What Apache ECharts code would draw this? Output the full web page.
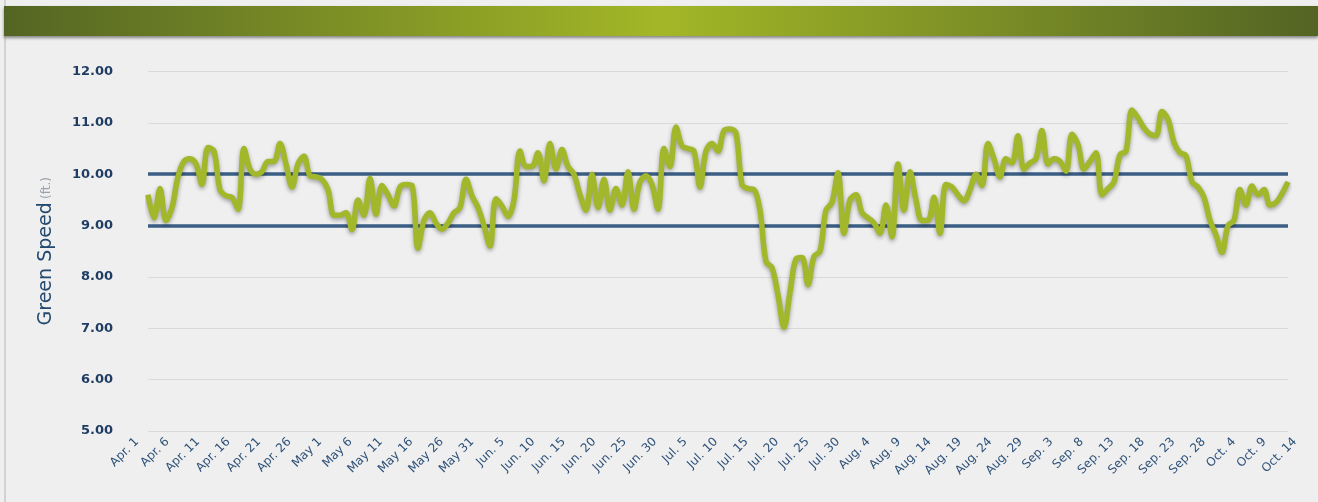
<!DOCTYPE html>
<html>
<head>
<meta charset="utf-8">
<script src="https://cdn.jsdelivr.net/npm/echarts@6/dist/echarts.min.js"></script>
<style>
html,body{margin:0;padding:0;background:#efefef;}
#chart{width:1318px;height:502px;}
</style>
</head>
<body>
<div id="chart"></div>
<script>
const categories = [
"Apr. 1","Apr. 2","Apr. 3","Apr. 4","Apr. 5","Apr. 6","Apr. 7","Apr. 8","Apr. 9","Apr. 10",
"Apr. 11","Apr. 12","Apr. 13","Apr. 14","Apr. 15","Apr. 16","Apr. 17","Apr. 18","Apr. 19","Apr. 20",
"Apr. 21","Apr. 22","Apr. 23","Apr. 24","Apr. 25","Apr. 26","Apr. 27","Apr. 28","Apr. 29","Apr. 30",
"May 1","May 2","May 3","May 4","May 5","May 6","May 7","May 8","May 9","May 10",
"May 11","May 12","May 13","May 14","May 15","May 16","May 18","May 20","May 22","May 24",
"May 26","May 27","May 28","May 29","May 30","May 31","Jun. 1","Jun. 2","Jun. 3","Jun. 4",
"Jun. 5","Jun. 6","Jun. 7","Jun. 8","Jun. 9","Jun. 10","Jun. 11","Jun. 12","Jun. 13","Jun. 14",
"Jun. 15","Jun. 16","Jun. 17","Jun. 18","Jun. 19","Jun. 20","Jun. 21","Jun. 22","Jun. 23","Jun. 24",
"Jun. 25","Jun. 26","Jun. 27","Jun. 28","Jun. 29","Jun. 30","Jul. 1","Jul. 2","Jul. 3","Jul. 4",
"Jul. 5","Jul. 6","Jul. 7","Jul. 8","Jul. 9","Jul. 10","Jul. 11","Jul. 12","Jul. 13","Jul. 14",
"Jul. 15","Jul. 16","Jul. 17","Jul. 18","Jul. 19","Jul. 20","Jul. 21","Jul. 22","Jul. 23","Jul. 24",
"Jul. 25","Jul. 26","Jul. 27","Jul. 28","Jul. 29","Jul. 30","Jul. 31","Aug. 1","Aug. 2","Aug. 3",
"Aug. 4","Aug. 5","Aug. 6","Aug. 7","Aug. 8","Aug. 9","Aug. 10","Aug. 11","Aug. 12","Aug. 13",
"Aug. 14","Aug. 15","Aug. 16","Aug. 17","Aug. 18","Aug. 19","Aug. 20","Aug. 21","Aug. 22","Aug. 23",
"Aug. 24","Aug. 25","Aug. 26","Aug. 27","Aug. 28","Aug. 29","Aug. 30","Aug. 31","Sep. 1","Sep. 2",
"Sep. 3","Sep. 4","Sep. 5","Sep. 6","Sep. 7","Sep. 8","Sep. 9","Sep. 10","Sep. 11","Sep. 12",
"Sep. 13","Sep. 14","Sep. 15","Sep. 16","Sep. 17","Sep. 18","Sep. 19","Sep. 20","Sep. 21","Sep. 22",
"Sep. 23","Sep. 24","Sep. 25","Sep. 26","Sep. 27","Sep. 28","Sep. 29","Sep. 30","Oct. 1","Oct. 2",
"Oct. 4","Oct. 5","Oct. 6","Oct. 7","Oct. 8","Oct. 9","Oct. 10","Oct. 11","Oct. 12","Oct. 13",
"Oct. 14"
];

const tickLabels = [
"Apr. 1","Apr. 6","Apr. 11","Apr. 16","Apr. 21","Apr. 26","May 1","May 6","May 11","May 16",
"May 26","May 31","Jun. 5","Jun. 10","Jun. 15","Jun. 20","Jun. 25","Jun. 30","Jul. 5","Jul. 10",
"Jul. 15","Jul. 20","Jul. 25","Jul. 30","Aug. 4","Aug. 9","Aug. 14","Aug. 19","Aug. 24","Aug. 29",
"Sep. 3","Sep. 8","Sep. 13","Sep. 18","Sep. 23","Sep. 28","Oct. 4","Oct. 9","Oct. 14"
];

const greenSpeed = [
9.60,9.15,9.72,9.10,9.35,9.95,10.25,10.30,10.20,9.80,
10.52,10.45,9.70,9.58,9.55,9.32,10.50,10.10,10.00,10.05,
10.25,10.25,10.60,10.20,9.75,10.20,10.35,9.97,9.95,9.90,
9.70,9.20,9.20,9.25,8.92,9.50,9.20,9.92,9.22,9.78,
9.60,9.38,9.75,9.80,9.78,8.56,9.10,9.25,9.05,8.93,
9.05,9.25,9.35,9.90,9.58,9.35,9.00,8.60,9.52,9.38,
9.18,9.50,10.45,10.15,10.15,10.42,9.87,10.60,10.10,10.48,
10.15,10.00,9.60,9.30,10.00,9.35,9.90,9.30,9.72,9.40,
10.05,9.32,9.85,9.97,9.80,9.32,10.50,10.15,10.92,10.55,
10.50,10.45,9.75,10.45,10.60,10.45,10.85,10.88,10.80,9.80,
9.72,9.70,9.30,8.30,8.18,7.65,7.02,7.70,8.35,8.38,
7.85,8.40,8.50,9.30,9.45,10.03,8.85,9.50,9.60,9.25,
9.15,9.05,8.85,9.40,8.78,10.20,9.30,10.05,9.50,9.10,
9.10,9.55,8.85,9.80,9.75,9.60,9.48,9.70,10.00,9.78,
10.60,10.30,9.95,10.30,10.22,10.75,10.10,10.22,10.30,10.85,
10.20,10.30,10.25,10.06,10.78,10.58,10.10,10.25,10.42,9.60,
9.72,9.85,10.38,10.45,11.25,11.10,10.90,10.78,10.75,11.22,
11.07,10.62,10.42,10.36,9.85,9.75,9.55,9.10,8.82,8.48,
9.00,9.10,9.70,9.40,9.77,9.60,9.70,9.40,9.45,9.62,
9.85
];

const yTicks = [5, 6, 7, 8, 9, 10, 11, 12];
const targetBand = [9, 10];

const chart = echarts.init(document.getElementById('chart'), null, {renderer: 'canvas'});

chart.setOption({
  backgroundColor: '#efefef',
  animation: false,
  graphic: [
    {type: 'rect', left: 4, top: 0, shape: {width: 2, height: 502}, style: {fill: '#d2d2d2'}, z: 0},
    {type: 'rect', left: 4, top: 6, shape: {width: 1314, height: 30},
     style: {
       fill: new echarts.graphic.LinearGradient(0, 0, 1, 0, [
         {offset: 0, color: '#546523'},
         {offset: 0.5, color: '#a3b727'},
         {offset: 1, color: '#536424'}
       ]),
       shadowColor: 'rgba(0,0,0,0.45)', shadowBlur: 3, shadowOffsetY: 2
     }, z: 10}
  ],
  grid: [
    {left: 148, right: 30, top: 71.5, bottom: 71, containLabel: false},
    {left: 137, right: 23, top: 71.5, bottom: 71, containLabel: false}
  ],
  xAxis: [{
    type: 'category',
    gridIndex: 0,
    data: categories,
    boundaryGap: false,
    axisLine: {show: false},
    axisTick: {show: false},
    splitLine: {show: false},
    axisLabel: {show: false}
  }, {
    type: 'category',
    gridIndex: 1,
    data: tickLabels,
    boundaryGap: false,
    axisLine: {show: false},
    axisTick: {show: false},
    splitLine: {show: false},
    axisLabel: {
      interval: 0,
      rotate: 45,
      margin: 9,
      color: '#2d5078',
      fontFamily: 'DejaVu Sans',
      fontSize: 12
    }
  }],
  yAxis: [{
    type: 'value',
    gridIndex: 0,
    min: yTicks[0],
    max: yTicks[yTicks.length - 1],
    interval: 1,
    axisLine: {show: false},
    axisTick: {show: false},
    splitLine: {lineStyle: {color: '#dadada', width: 1}},
    axisLabel: {
      margin: 35,
      color: '#1f3d63',
      fontWeight: 'bold',
      fontFamily: 'DejaVu Sans',
      fontSize: 13,
      formatter: v => v.toFixed(2)
    },
    name: '{a|Green Speed} {b|(ft.)}',
    nameLocation: 'middle',
    nameRotate: 90,
    nameGap: 92,
    nameTextStyle: {
      rich: {
        a: {fontSize: 19, color: '#23496f', fontFamily: 'DejaVu Sans'},
        b: {fontSize: 12, color: '#9aa3ad', fontFamily: 'DejaVu Sans'}
      }
    }
  }, {
    type: 'value',
    gridIndex: 1,
    show: false,
    min: yTicks[0],
    max: yTicks[yTicks.length - 1]
  }],
  series: [{
    type: 'line',
    xAxisIndex: 0,
    yAxisIndex: 0,
    data: greenSpeed,
    smooth: 0.35,
    showSymbol: false,
    lineStyle: {
      color: '#a2b82a',
      width: 5.5,
      shadowColor: 'rgba(0,0,0,0.35)',
      shadowBlur: 4,
      shadowOffsetY: 2
    },
    z: 5,
    markLine: {
      silent: true,
      symbol: 'none',
      label: {show: false},
      lineStyle: {color: '#3a5e84', width: 3.5, type: 'solid'},
      data: targetBand.map(v => ({yAxis: v})),
      z: 3
    }
  }]
});
</script>
</body>
</html>
